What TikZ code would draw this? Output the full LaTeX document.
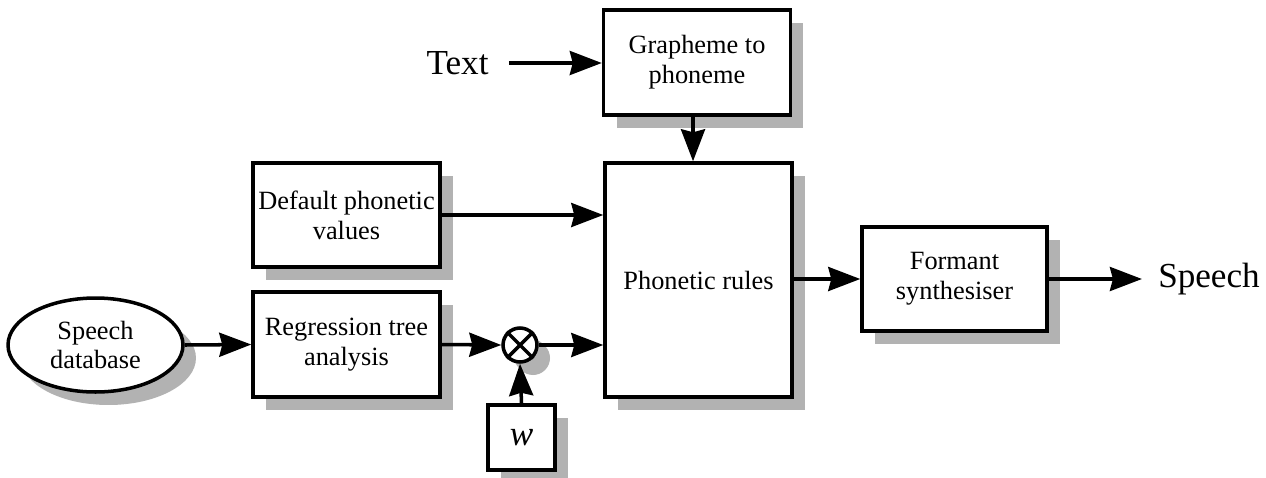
\documentclass[tikz,border=0pt]{standalone}
\usepackage{fontspec}
\setmainfont{Liberation Serif}
\usetikzlibrary{shadows,arrows.meta,shapes.geometric}
\begin{document}
\begin{tikzpicture}[x=0.02cm,y=-0.02cm,
  shad/.style={drop shadow={shadow xshift=0.26cm,shadow yshift=-0.26cm,fill=gray!60,opacity=1}},
  blk/.style={draw,line width=2pt,fill=white,shad,align=center,inner sep=2pt,
    font=\fontsize{15}{17}\selectfont},
  lbl/.style={font=\fontsize{20}{24}\selectfont,inner sep=0pt},
  arr/.style={line width=2pt,-{Stealth[length=0.64cm,width=0.48cm,inset=0.06cm]}}]
\path[use as bounding box,fill=white] (0,0) rectangle (1266,477);
\node[blk,minimum width=3.74cm,minimum height=2.1cm] (g2p) at (697,62.5) {Grapheme to\\phoneme};
\node[blk,minimum width=3.74cm,minimum height=4.68cm] (rules) at (698.5,280) {Phonetic rules};
\node[blk,minimum width=3.74cm,minimum height=2.08cm] (def) at (346.5,215) {Default phonetic\\values};
\node[blk,minimum width=3.74cm,minimum height=2.1cm] (reg) at (346.5,344.5) {Regression tree\\analysis};
\node[blk,minimum width=3.7cm,minimum height=2.08cm] (form) at (954.5,279) {Formant\\synthesiser};
\node[blk,ellipse,inner sep=0pt,minimum width=3.5cm,minimum height=1.88cm] (db) at (95.5,345) {Speech\\database};
\node[blk,circle,inner sep=0pt,minimum size=0.68cm,drop shadow={shadow xshift=0.22cm,shadow yshift=-0.22cm,fill=gray!60,opacity=1}] (mul) at (520,345) {};
\draw[line width=2pt] (mul.45) -- (mul.225) (mul.135) -- (mul.315);
\node[blk,minimum width=1.34cm,minimum height=1.3cm,font=\fontsize{20}{22}\selectfont\itshape] (w) at (521.5,437.5) {w};
\node[lbl] (txt) at (457.5,63) {Text};
\node[lbl] (sp) at (1209,279) {Speech};
\draw[arr] (txt.east) ++(0.4cm,0) coordinate (ts) -- (g2p.west |- ts);
\draw[arr] (g2p.south -| 693,0) -- (rules.north -| 693,0);
\draw[arr] (def.east) -- (rules.west |- def.east);
\draw[arr] (reg.east) -- (mul.west);
\draw[arr] (mul.east) -- (rules.west |- mul.east);
\draw[arr] (w.north) -- (mul.south);
\draw[arr] (db.east) -- (reg.west);
\draw[arr] (rules.east |- form.west) -- (form.west);
\draw[arr] (form.east) -- ([xshift=-0.32cm]sp.west);
\end{tikzpicture}
\end{document}
